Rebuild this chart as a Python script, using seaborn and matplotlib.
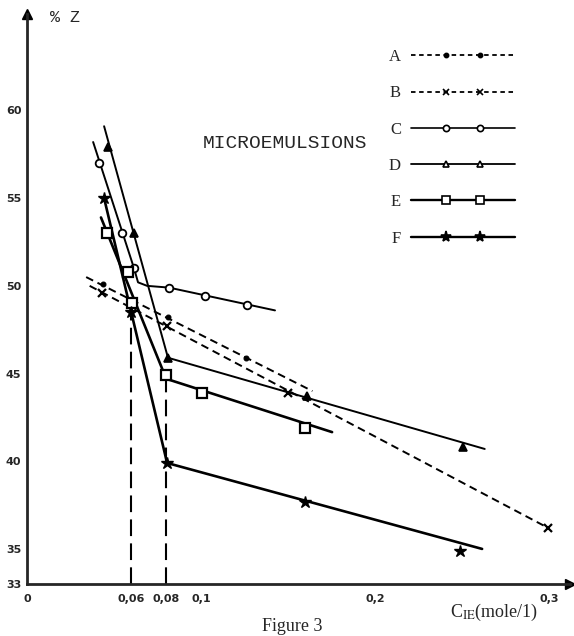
import matplotlib
matplotlib.use("Agg")
import matplotlib.pyplot as plt
import seaborn as sns
from matplotlib.lines import Line2D
from matplotlib.legend_handler import HandlerLine2D

# Series: marker points and the drawn line paths
names = ["A", "B", "C", "D", "E", "F"]

a_x = [0.0437, 0.081, 0.126]
a_y = [50.1, 48.2, 45.9]
a_line_x = [0.034, 0.164]
a_line_y = [50.5, 44.0]

b_x = [0.0431, 0.0805, 0.150, 0.2994]
b_y = [49.6, 47.7, 43.9, 36.2]
b_line_x = [0.036, 0.2994]
b_line_y = [50.0, 36.2]

c_x = [0.0414, 0.0546, 0.0615, 0.0816, 0.1023, 0.1264]
c_y = [57.0, 53.0, 51.0, 49.9, 49.4, 48.9]
c_line_x = [0.038, 0.0615, 0.0638, 0.069, 0.0816, 0.1425]
c_line_y = [58.2, 51.0, 50.2, 50.0, 49.9, 48.6]

d_x = [0.0466, 0.0615, 0.081, 0.161, 0.2506]
d_y = [57.9, 53.0, 45.9, 43.7, 40.8]
d_line_x = [0.0443, 0.081, 0.263]
d_line_y = [59.1, 45.9, 40.7]

e_x = [0.046, 0.058, 0.0605, 0.080, 0.1006, 0.160]
e_y = [53.0, 50.8, 49.0, 44.9, 43.9, 41.9]
e_line_x = [0.0425, 0.080, 0.1753]
e_line_y = [53.9, 44.7, 41.66]

f_x = [0.0443, 0.0598, 0.0805, 0.160, 0.249]
f_y = [55.0, 48.5, 39.9, 37.7, 34.9]
f_line_x = [0.0443, 0.0805, 0.2615]
f_line_y = [55.0, 39.9, 35.0]

# dashed drop lines to the x axis
drop_x = [0.06, 0.08]
drop_top = [48.3, 44.7]

y_ticks = [33, 35, 40, 45, 50, 55, 60]
y_labels = ["33", "35", "40", "45", "50", "55", "60"]
x_ticks = [0, 0.06, 0.08, 0.1, 0.2, 0.3]
x_labels = ["0", "0,06", "0,08", "0,1", "0,2", "0,3"]
x_minor = [0.05, 0.15, 0.25]

points = {"A": (a_x, a_y), "B": (b_x, b_y), "C": (c_x, c_y),
          "D": (d_x, d_y), "E": (e_x, e_y), "F": (f_x, f_y)}
paths = {"A": (a_line_x, a_line_y), "B": (b_line_x, b_line_y),
         "C": (c_line_x, c_line_y), "D": (d_line_x, d_line_y),
         "E": (e_line_x, e_line_y), "F": (f_line_x, f_line_y)}

styles = {
    "A": dict(ls=(0, (4, 2.5)), lw=1.4, marker="o", ms=3.5, mfc="k", mew=0.8),
    "B": dict(ls=(0, (4, 2.5)), lw=1.4, marker="x", ms=6, mfc="k", mew=1.6),
    "C": dict(ls="-", lw=1.4, marker="o", ms=5.5, mfc="white", mew=1.3),
    "D": dict(ls="-", lw=1.4, marker="^", ms=6, mfc="k", mew=1.2),
    "E": dict(ls="-", lw=1.9, marker="s", ms=6.5, mfc="white", mew=1.6),
    "F": dict(ls="-", lw=1.9, marker="*", ms=9, mfc="k", mew=1.0),
}
# legend sample symbols are drawn a bit smaller
legend_sym = {
    "A": dict(ls=(0, (2.5, 2)), lw=1.3, ms=3, mfc="k"),
    "B": dict(ls=(0, (2.5, 2)), lw=1.3, ms=5, mfc="k"),
    "C": dict(ls="-", lw=1.2, ms=4.5, mfc="white"),
    "D": dict(ls="-", lw=1.3, ms=5, mfc="white"),
    "E": dict(ls="-", lw=1.7, ms=5.5, mfc="white"),
    "F": dict(ls="-", lw=1.7, ms=8, mfc="k"),
}

sns.set_style("white")
plt.rcParams["font.family"] = ["DejaVu Sans"]
plt.rcParams["mathtext.fontset"] = "stix"

fig = plt.figure(figsize=(5.74, 6.36), dpi=100)
ax = fig.add_axes([27 / 574, 52 / 636, 543 / 574, 570 / 636])

for n in names:
    st = styles[n]
    lx, ly = paths[n]
    sns.lineplot(x=lx, y=ly, ax=ax, color="k", lw=st["lw"], linestyle=st["ls"],
                 sort=False, estimator=None)
    px, py = points[n]
    ax.plot(px, py, ls="none", marker=st["marker"], ms=st["ms"], mfc=st["mfc"],
            mec="k", mew=st["mew"], color="k", zorder=4)

ax.vlines(drop_x, 33, drop_top, colors="k", linestyles=(0, (8, 3.5)), lw=1.5)

ax.set_xlim(0, 0.312)
ax.set_ylim(33, 65.5)
sns.despine(ax=ax)
for s in ["left", "bottom"]:
    ax.spines[s].set_linewidth(2)
ax.plot(1, 33, ">k", ms=7, transform=ax.get_yaxis_transform(), clip_on=False)
ax.plot(0, 1, "^k", ms=7, transform=ax.get_xaxis_transform(), clip_on=False)

ax.set_yticks(y_ticks)
ax.set_yticklabels(y_labels, fontsize=8, fontweight="bold")
ax.set_xticks(x_ticks)
ax.set_xticklabels(x_labels, fontsize=8, fontweight="bold")
ax.set_xticks(x_minor, minor=True)
ax.tick_params(axis="y", direction="inout", length=6, width=1.2, pad=1)
ax.tick_params(axis="x", which="both", direction="in", length=6, width=1.2, pad=7)
for t in ax.xaxis.get_major_ticks()[:3]:
    t.tick1line.set_visible(False)
ax.yaxis.get_major_ticks()[0].tick1line.set_visible(False)

# legend: label on the left, two markers on each sample line
handles, hmap = [], {}
for n in names:
    lg = legend_sym[n]
    ln = Line2D([], [], color="k", lw=lg["lw"], ls=lg["ls"])
    mk = Line2D([], [], ls="none", marker=styles[n]["marker"], ms=lg["ms"],
                mfc=lg["mfc"], mec="k", mew=1.2, color="k")
    hmap[mk] = HandlerLine2D(marker_pad=2.1, numpoints=2)
    handles.append((ln, mk))
ax.legend(handles, names, handler_map=hmap, markerfirst=False, frameon=False,
          handlelength=6.25, labelspacing=1.22, handletextpad=0.6,
          loc="upper left", bbox_to_anchor=(374 / 574, 1 - 34 / 636),
          bbox_transform=fig.transFigure,
          prop={"family": "Liberation Serif", "size": 12})

fig.text(203 / 574, 1 - 143 / 636, "MICROEMULSIONS", family="Liberation Mono",
         fontsize=14, va="center", ha="left")
fig.text(50 / 574, 1 - 18 / 636, "% Z", family="Liberation Mono",
         fontsize=12, va="center", ha="left")
fig.text(450 / 574, 1 - 612 / 636, r"C$_{\mathrm{IE}}$(mole/1)",
         family="Liberation Serif", fontsize=13, va="center", ha="left")
fig.text(262 / 574, 1 / 636, "Figure 3", family="Liberation Serif",
         fontsize=13, va="bottom", ha="left")

fig.savefig("out.png", dpi=100)
